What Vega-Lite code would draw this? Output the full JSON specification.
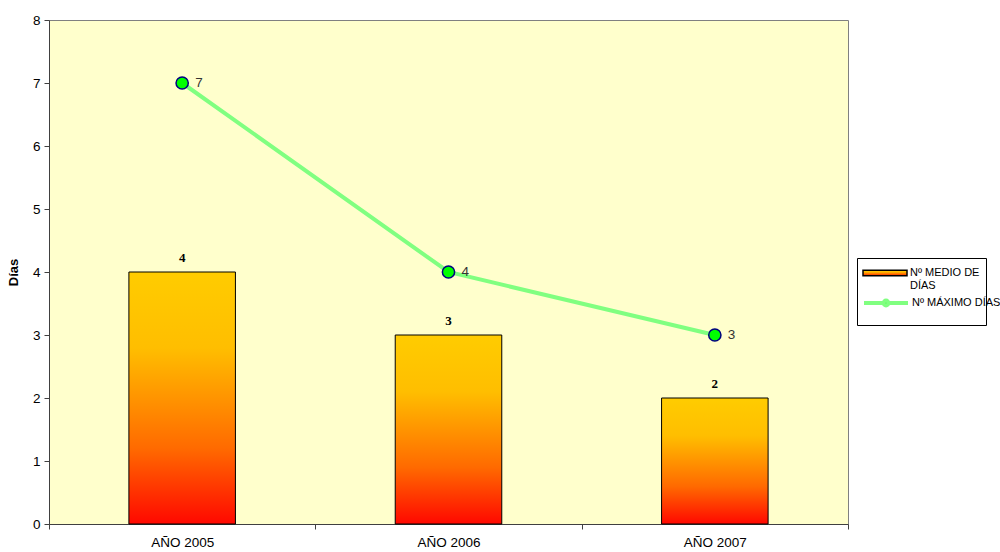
{
  "$schema": "https://vega.github.io/schema/vega-lite/v6.json",
  "width": 799,
  "height": 504,
  "autosize": "none",
  "padding": {"left": 49, "top": 20, "right": 152, "bottom": 28},
  "background": "white",
  "config": {
    "font": "Liberation Sans",
    "view": {"fill": "#FFFFCC", "stroke": "#808080", "strokeWidth": 1},
    "axis": {
      "domainColor": "#404040",
      "tickColor": "#404040",
      "tickSize": 5,
      "labelColor": "#000000",
      "labelFontSize": 13.5,
      "labelFont": "Liberation Sans",
      "grid": false
    }
  },
  "data": {
    "values": [
      {"anio": "AÑO 2005", "medio": 4, "maximo": 7},
      {"anio": "AÑO 2006", "medio": 3, "maximo": 4},
      {"anio": "AÑO 2007", "medio": 2, "maximo": 3}
    ]
  },
  "encoding": {
    "x": {
      "field": "anio",
      "type": "nominal",
      "sort": null,
      "scale": {"paddingInner": 0, "paddingOuter": 0},
      "axis": {"title": null, "labelAngle": 0, "tickBand": "extent", "labelPadding": 6}
    }
  },
  "layer": [
    {
      "mark": {
        "type": "bar",
        "width": {"band": 0.4},
        "strokeWidth": 1,
        "fill": {
          "gradient": "linear",
          "x1": 0, "y1": 0, "x2": 0, "y2": 1,
          "stops": [
            {"offset": 0, "color": "#FFCC00"},
            {"offset": 0.3, "color": "#FFBE00"},
            {"offset": 0.7, "color": "#FF6A00"},
            {"offset": 1, "color": "#FF0800"}
          ]
        }
      },
      "encoding": {
        "y": {
          "field": "medio",
          "type": "quantitative",
          "title": "Días",
          "scale": {"domain": [0, 8]},
          "axis": {
            "values": [0, 1, 2, 3, 4, 5, 6, 7, 8],
            "format": "d",
            "titleFontSize": 13,
            "titleFontWeight": "bold",
            "titleColor": "#000000",
            "titlePadding": 12,
            "labelPadding": 4
          }
        },
        "stroke": {
          "datum": "Nº MEDIO DE DÍAS",
          "type": "nominal",
          "scale": {"domain": ["Nº MEDIO DE DÍAS"], "range": ["#000000"]},
          "legend": {
            "orient": "none",
            "legendX": 808,
            "legendY": 238,
            "title": "                                                              ",
            "titleOrient": "bottom",
            "titleFontSize": 8,
            "titlePadding": 20,
            "titleLimit": 400,
            "strokeColor": "#000000",
            "padding": 6,
            "labelFontSize": 11,
            "labelColor": "#000000",
            "labelFont": "Liberation Sans",
            "labelOffset": 16,
            "labelLimit": 200,
            "labelBaseline": "middle",
            "symbolSize": 256,
            "symbolOffset": 13,
            "symbolStrokeWidth": 1.5,
            "symbolOpacity": 1,
            "symbolType": "M-2.75,-0.35H2.75V0.35H-2.75Z",
            "labelExpr": "['Nº MEDIO DE', 'DÍAS']"
          }
        }
      }
    },
    {
      "mark": {"type": "text", "baseline": "alphabetic", "dy": -10, "fontSize": 13, "fontWeight": "bold", "font": "Liberation Sans Narrow", "color": "#000000"},
      "encoding": {
        "y": {"field": "medio", "type": "quantitative", "title": "Días"},
        "text": {"field": "medio", "type": "quantitative"}
      }
    },
    {
      "mark": {"type": "line", "strokeWidth": 4},
      "encoding": {
        "y": {"field": "maximo", "type": "quantitative", "title": "Días"},
        "color": {
          "datum": "Nº MÁXIMO DÍAS",
          "type": "nominal",
          "scale": {"domain": ["Nº MÁXIMO DÍAS"], "range": ["#80FF80"]},
          "legend": {
            "orient": "none",
            "legendX": 808,
            "legendY": 267,
            "title": null,
            "padding": 6,
            "labelFontSize": 11,
            "labelColor": "#000000",
            "labelFont": "Liberation Sans",
            "labelOffset": 16,
            "labelLimit": 200,
            "labelBaseline": "middle",
            "symbolSize": 256,
            "symbolOffset": 13,
            "symbolStrokeWidth": 4,
            "symbolOpacity": 1,
            "symbolFillColor": "#00FF00",
            "symbolType": "M-2.75,0H-0.3M0.3,0H2.75M-0.3,0A0.3,0.3,0,1,1,0.3,0A0.3,0.3,0,1,1,-0.3,0"
          }
        }
      }
    },
    {
      "mark": {"type": "point", "filled": true, "fill": "#00FF00", "stroke": "#000080", "strokeWidth": 1.5, "size": 150, "opacity": 1},
      "encoding": {
        "y": {"field": "maximo", "type": "quantitative", "title": "Días"}
      }
    },
    {
      "mark": {"type": "text", "align": "left", "baseline": "middle", "dx": 13, "fontSize": 13.5, "color": "#333333"},
      "encoding": {
        "y": {"field": "maximo", "type": "quantitative", "title": "Días"},
        "text": {"field": "maximo", "type": "quantitative"}
      }
    }
  ]
}
